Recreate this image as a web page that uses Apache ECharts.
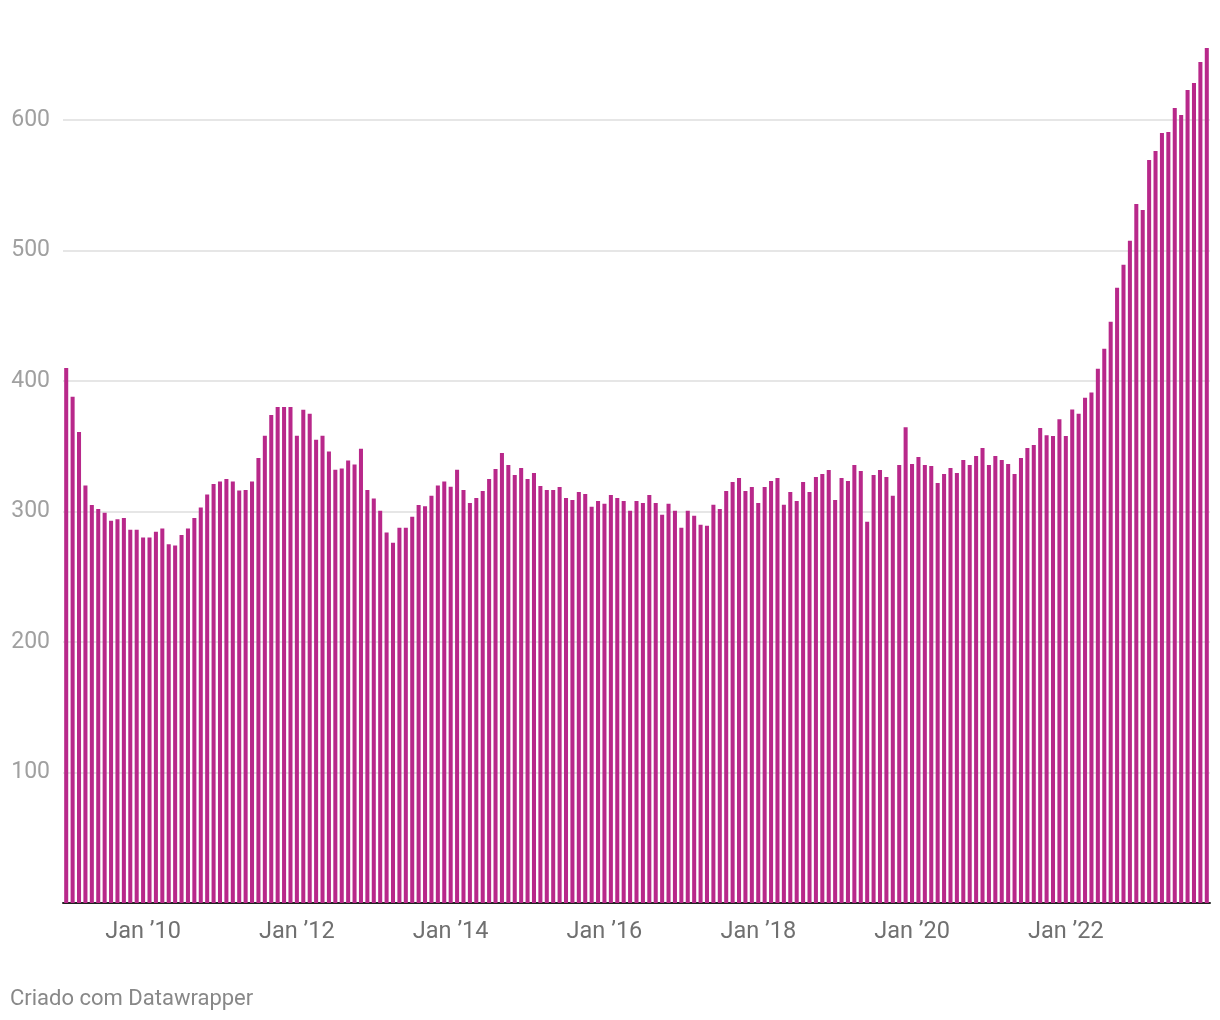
<!DOCTYPE html>
<html>
<head>
<meta charset="utf-8">
<script src="https://cdn.jsdelivr.net/npm/echarts@6/dist/echarts.min.js"></script>
<style>
html,body{margin:0;padding:0;background:#fff;}
#chart{width:1220px;height:1020px;}
</style>
</head>
<body>
<div id="chart"></div>
<script>
// Monthly categories: Jan 2009 .. Nov 2023
const startYear = 2009;
const monthCount = 179;
const categories = [];
for (let i = 0; i < monthCount; i++) {
  const y = startYear + Math.floor(i / 12);
  const m = (i % 12) + 1;
  categories.push(y + '-' + (m < 10 ? '0' + m : m));
}

// Tick labels on x axis
const xTickLabels = {
  '2010-01': 'Jan \u201910',
  '2012-01': 'Jan \u201912',
  '2014-01': 'Jan \u201914',
  '2016-01': 'Jan \u201916',
  '2018-01': 'Jan \u201918',
  '2020-01': 'Jan \u201920',
  '2022-01': 'Jan \u201922'
};

const yTicks = [100, 200, 300, 400, 500, 600];

// Series values
const values = [
  410, 388, 361, 320, 305, 302, 299, 293, 294, 295, 286, 286,
  280, 280, 284.5, 287, 275, 274, 282, 287, 295, 303, 313, 321,
  323, 325, 323, 316, 316.5, 323, 341, 358, 374, 380, 380, 380,
  358, 378, 375, 355, 358, 346, 332, 333, 339, 336, 348, 316.5,
  310, 300.5, 284, 276, 287.5, 287.5, 296, 305, 304, 312, 320, 323,
  319, 332, 316.5, 306.6, 310.4, 315.8, 325, 332.6, 344.8, 335.6, 328, 333.3,
  325, 329.5, 319.6, 316.5, 316.5, 318.8, 310.4, 308.9, 315, 313.5, 303.6, 308.1,
  305.9, 312.7, 310.4, 308.1, 300.5, 308.1, 306.6, 312.7, 306.6, 297.5, 305.9, 300.5,
  287.5, 300.5, 296.7, 289.8, 289.1, 305.1, 302, 315.8, 322.6, 325.7, 315.8, 318.8,
  306.6, 318.8, 323.4, 325.7, 305.1, 315, 308.1, 322.6, 315, 326.5, 328.8, 331.8,
  308.9, 325.7, 323.4, 335.6, 331, 292.1, 328, 331.8, 326.5, 312, 335.6, 364.6,
  336.4, 341.7, 335.6, 334.9, 321.9, 328.8, 333.3, 329.5, 339.4, 335.6, 342.5, 348.6,
  335.6, 342.5, 339.4, 336.4, 328.8, 341, 348.6, 350.9, 363.9, 358.5, 357.8, 370.7,
  357.8, 378.1, 375, 387.2, 391.1, 409.4, 424.7, 445.4, 471.4, 489, 507.4, 535.7,
  531.1, 569.4, 576.3, 590.1, 590.8, 609.2, 603.8, 623, 628.3, 644.4, 655.1
];

const footerText = 'Criado com Datawrapper';

const chart = echarts.init(document.getElementById('chart'), null, {renderer: 'canvas'});
chart.setOption({
  animation: false,
  backgroundColor: '#ffffff',
  textStyle: {fontFamily: 'Roboto'},
  grid: {left: 63, right: 10, top: 41.7, bottom: 117, containLabel: false},
  xAxis: {
    type: 'category',
    data: categories,
    boundaryGap: true,
    axisLine: {show: true, lineStyle: {color: '#222222', width: 2}},
    axisTick: {show: false},
    splitLine: {show: false},
    axisLabel: {
      interval: function (idx, val) { return xTickLabels.hasOwnProperty(val); },
      formatter: function (val) { return xTickLabels[val] || ''; },
      color: '#707070',
      fontSize: 23.5,
      fontFamily: 'Roboto',
      margin: 17
    }
  },
  yAxis: {
    type: 'value',
    min: 0,
    max: 660,
    interval: 100,
    axisLine: {show: false},
    axisTick: {show: false},
    splitLine: {show: true, showMaxLine: false, showMinLine: false, lineStyle: {color: '#e6e6e6', width: 2}},
    axisLabel: {
      showMaxLabel: false,
      showMinLabel: false,
      formatter: function (v) { return yTicks.indexOf(v) >= 0 ? String(v) : ''; },
      color: '#a0a0a0',
      fontSize: 23,
      fontFamily: 'Roboto',
      margin: 13
    }
  },
  series: [{
    type: 'bar',
    data: values,
    barCategoryGap: '37%',
    itemStyle: {color: '#b8288a'},
    emphasis: {disabled: true}
  }],
  graphic: [{
    type: 'text',
    left: 10,
    top: 988,
    style: {text: footerText, fill: '#888888', fontSize: 22, fontFamily: 'Roboto'}
  }]
});
</script>
</body>
</html>
